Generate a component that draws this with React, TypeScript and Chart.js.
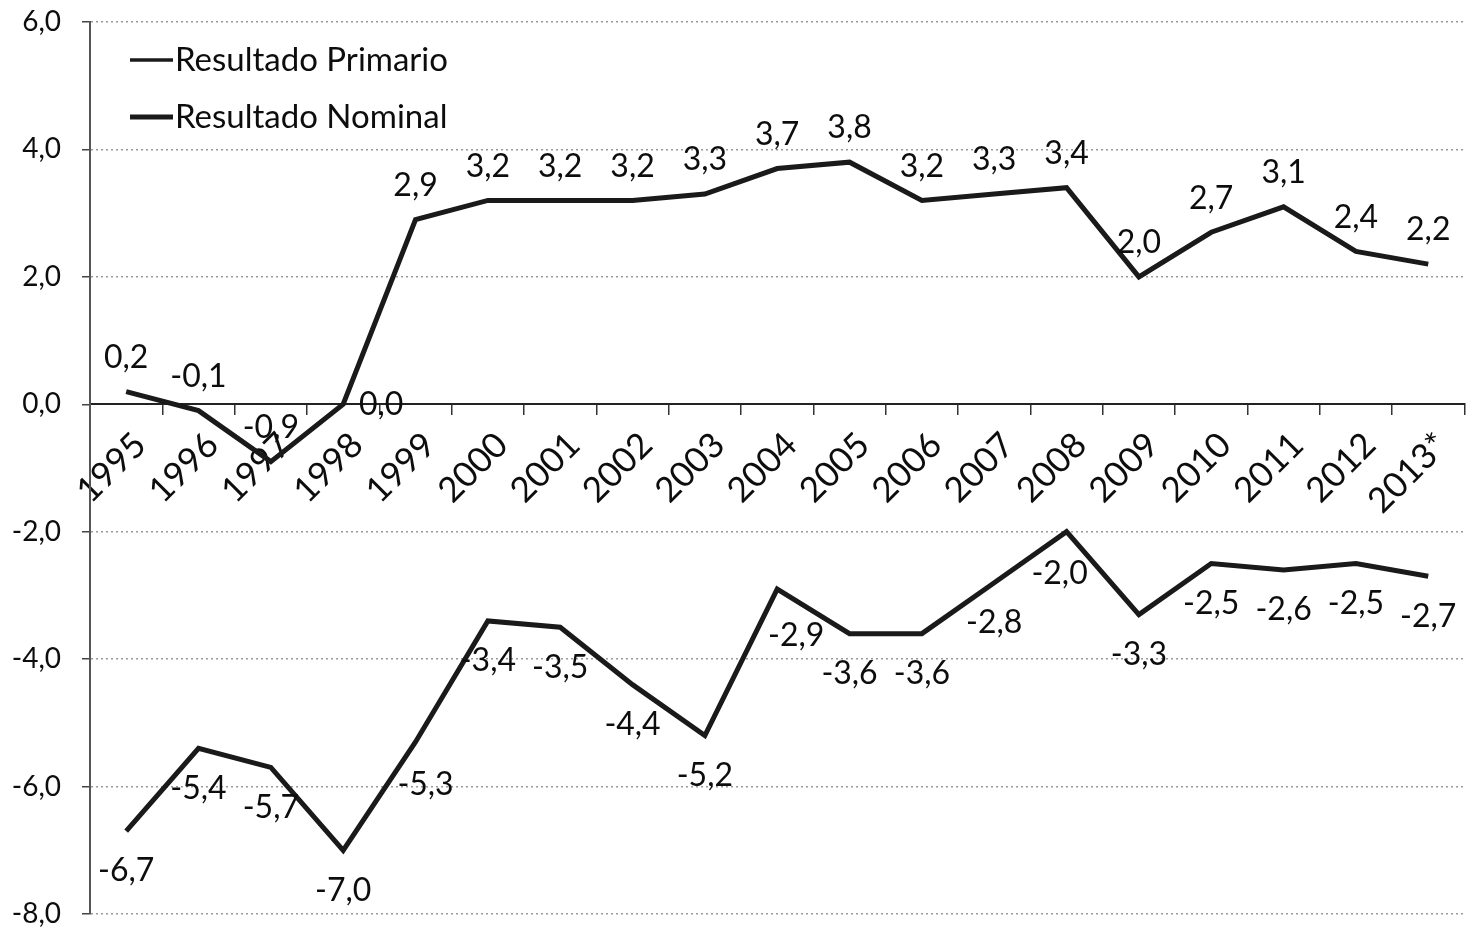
import React, { useEffect, useRef } from "react";
import { Chart, registerables } from "chart.js";

Chart.register(...registerables);

const years = ["1995","1996","1997","1998","1999","2000","2001","2002","2003","2004","2005","2006","2007","2008","2009","2010","2011","2012","2013*"];
const primario = [0.2,-0.1,-0.9,0.0,2.9,3.2,3.2,3.2,3.3,3.7,3.8,3.2,3.3,3.4,2.0,2.7,3.1,2.4,2.2];
const nominal = [-6.7,-5.4,-5.7,-7.0,-5.3,-3.4,-3.5,-4.4,-5.2,-2.9,-3.6,-3.6,-2.8,-2.0,-3.3,-2.5,-2.6,-2.5,-2.7];
const seriesNames = ["Resultado Primario", "Resultado Nominal"];

const FONT = "Lato, 'Open Sans', sans-serif";
const fmt = (v: number) => v.toFixed(1).replace(".", ",");

// label placement tweaks (dataset index -> point index -> [dx, dy])
const labelTweaks: Record<number, Record<number, [number, number]>> = {
  0: { 3: [38, 34] },
  1: { 4: [10, 3], 9: [19, 7], 13: [-7, 2] },
};

const dataLabelPlugin = {
  id: "dataLabels",
  afterDatasetsDraw(chart: any) {
    const ctx = chart.ctx;
    ctx.save();
    ctx.font = `32px ${FONT}`;
    ctx.fillStyle = "#0d0d0d";
    ctx.textAlign = "center";
    ctx.textBaseline = "middle";
    chart.data.datasets.forEach((ds: any, di: number) => {
      const meta = chart.getDatasetMeta(di);
      meta.data.forEach((pt: any, i: number) => {
        const base = di === 0 ? -34 : 40;
        const tw = (labelTweaks[di] || {})[i] || [0, 0];
        ctx.fillText(fmt(ds.data[i]), pt.x + tw[0], pt.y + base + tw[1]);
      });
    });
    ctx.restore();
  },
};

const legendPlugin = {
  id: "insideLegend",
  afterDraw(chart: any) {
    const ctx = chart.ctx;
    ctx.save();
    const rows = [60, 117];
    const widths = [3.5, 5];
    seriesNames.forEach((name, i) => {
      ctx.strokeStyle = "#1a1a1a";
      ctx.lineWidth = widths[i];
      ctx.beginPath();
      ctx.moveTo(130, rows[i]);
      ctx.lineTo(173, rows[i]);
      ctx.stroke();
      ctx.font = `33px ${FONT}`;
      ctx.fillStyle = "#0d0d0d";
      ctx.textAlign = "left";
      ctx.textBaseline = "middle";
      ctx.fillText(name, 175, rows[i]);
    });
    ctx.restore();
  },
};

export default function App() {
  const ref = useRef<HTMLCanvasElement | null>(null);
  useEffect(() => {
    document.body.style.margin = "0";
    const chart = new Chart(ref.current as HTMLCanvasElement, {
      type: "line",
      data: {
        labels: years,
        datasets: [
          { label: seriesNames[0], data: primario, borderColor: "#1a1a1a", borderWidth: 5, pointRadius: 0, tension: 0 },
          { label: seriesNames[1], data: nominal, borderColor: "#1a1a1a", borderWidth: 5, pointRadius: 0, tension: 0 },
        ],
      },
      options: {
        animation: false,
        responsive: false,
        layout: { padding: { top: 22, bottom: 15, left: 0, right: 2 } },
        plugins: { legend: { display: false }, tooltip: { enabled: false } },
        scales: {
          x: {
            type: "category",
            position: { y: 0 } as any,
            offset: true,
            grid: { offset: true, drawOnChartArea: false, tickLength: 10, color: "#333", lineWidth: 1.5 },
            border: { display: true, color: "#222", width: 2 },
            ticks: { minRotation: 45, maxRotation: 45, autoSkip: false, padding: 10, labelOffset: 14, color: "#0d0d0d", font: { family: FONT, size: 35 } },
          },
          y: {
            min: -8,
            max: 6,
            ticks: { stepSize: 2, padding: 21, color: "#0d0d0d", font: { family: FONT, size: 28 }, callback: (v: any) => fmt(Number(v)) },
            grid: {
              tickLength: 8,
              color: (c: any) => (c.tick && c.tick.value === 0 ? "rgba(0,0,0,0)" : "#999"),
              tickColor: "#444",
              lineWidth: 1.5,
            },
            border: { display: true, color: "#555", width: 2, dash: [2, 3] },
            afterFit: (s: any) => { s.width = 90; s.paddingTop = 0; s.paddingBottom = 0; },
          },
        },
      },
      plugins: [dataLabelPlugin, legendPlugin],
    });
    return () => chart.destroy();
  }, []);
  return <canvas ref={ref} width={1468} height={929} style={{ display: "block" }} />;
}
